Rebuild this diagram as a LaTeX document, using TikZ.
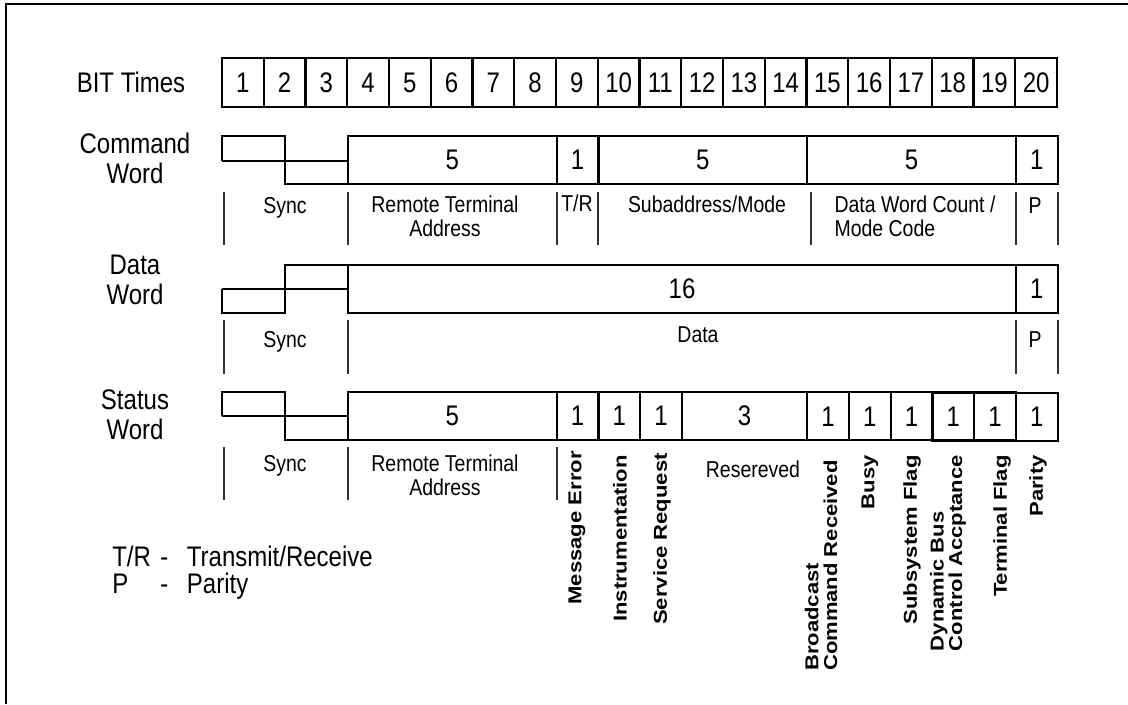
\documentclass[tikz,border=0pt]{standalone}
\usepackage{fontspec}
\setmainfont{Liberation Sans}
\usetikzlibrary{positioning}

\newcommand{\bitw}{31.3125pt}
\newcommand{\wordh}{30.5pt}

\begin{document}
\begin{tikzpicture}[x=0.75pt, y=-0.6356pt, yscale=1.18, transform shape,
    bitbox/.style={draw, line width=1.6pt, anchor=north west, inner sep=0pt, outer sep=0pt, minimum width=\bitw, minimum height=31.1pt, font=\fontsize{18}{20}\selectfont},
    field/.style={bitbox, minimum height=\wordh},
    rowname/.style={align=center, inner sep=0pt, font=\fontsize{18}{19}\selectfont},
    desc/.style={anchor=north, inner sep=0pt, align=center, font=\fontsize{14.6}{15}\selectfont},
    flag/.style={rotate=90, anchor=east, align=left, inner sep=0pt, font=\bfseries\fontsize{14}{14}\selectfont},
    tick/.style={line width=0.8pt, black!80},
    wave/.style={line width=1.6pt},
    legend/.style={anchor=base west, inner sep=0pt, font=\fontsize{18}{20}\selectfont}
]
\useasboundingbox (0,0) rectangle (1128,704);
\draw[line width=2pt] (1128,4) -- (6,4) -- (6,704);

% Bit times row
\node[rowname] (n-bits) at (131,82) {BIT Times};
\foreach \i in {1,...,20}
    \node[bitbox] (bit\i) at ({222+(\i-1)*41.75},58) {\i};

% Command word
\node[rowname] (n-cmd) at (135,158) {Command\\Word};
\draw[wave] (222,161) -- (222,136) -- (285,136) -- (285,184) -- (348,184);
\draw[wave] (222,161) -- (348,161);
\node[field, minimum width=5*\bitw] (c-rta) at (348,136) {5};
\node[field, minimum width=\bitw] (c-tr) at (c-rta.north east) {1};
\node[field, minimum width=5*\bitw] (c-sub) at (c-tr.north east) {5};
\node[field, minimum width=5*\bitw] (c-cnt) at (c-sub.north east) {5};
\node[field, minimum width=\bitw] (c-par) at (c-cnt.north east) {1};
\foreach \x in {224,348,557,598,811,1016,1058}
    \draw[tick] (\x,192) -- (\x,245);
\node[desc] (c-sync-l) at (285,197) {Sync};
\node[desc] (c-rta-l) at (445,196) {Remote Terminal\\Address};
\node[desc] (c-tr-l) at (577,195) {T/R};
\node[desc] (c-sub-l) at (707,196) {Subaddress/Mode};
\node[desc, align=left] (c-cnt-l) at (915,196) {Data Word Count /\\Mode Code};
\node[desc] (c-par-l) at (1035,197) {P};

% Data word
\node[rowname] (n-data) at (135,280) {Data\\Word};
\draw[wave] (222,289) -- (222,313) -- (285,313) -- (285,265) -- (348,265);
\draw[wave] (222,289) -- (348,289);
\node[field, minimum width=16*\bitw] (d-data) at (348,265) {16};
\node[field, minimum width=\bitw] (d-par) at (d-data.north east) {1};
\foreach \x in {224,348,1016,1058}
    \draw[tick] (\x,320) -- (\x,374);
\node[desc] (d-sync-l) at (285,331) {Sync};
\node[desc] (d-data-l) at (698,326) {Data};
\node[desc] (d-par-l) at (1035,331) {P};

% Status word
\node[rowname] (n-stat) at (135,415) {Status\\Word};
\draw[wave] (222,416) -- (222,392) -- (285,392) -- (285,440) -- (348,440);
\draw[wave] (222,416) -- (348,416);
\node[field, minimum width=5*\bitw] (s-rta) at (348,392) {5};
\node[field, minimum width=\bitw] (s-me) at (s-rta.north east) {1};
\node[field, minimum width=\bitw] (s-ins) at (s-me.north east) {1};
\node[field, minimum width=\bitw] (s-sr) at (s-ins.north east) {1};
\node[field, minimum width=3*\bitw] (s-res) at (s-sr.north east) {3};
\node[field, minimum width=\bitw] (s-bcr) at (s-res.north east) {1};
\node[field, minimum width=\bitw] (s-busy) at (s-bcr.north east) {1};
\node[field, minimum width=\bitw] (s-ssf) at (s-busy.north east) {1};
\node[field, minimum width=\bitw] (s-dbc) at (s-ssf.north east) {1};
\node[field, minimum width=\bitw] (s-tf) at (s-dbc.north east) {1};
\node[field, minimum width=\bitw] (s-par) at (s-tf.north east) {1};
\foreach \x in {224,348,557}
    \draw[tick] (\x,447) -- (\x,500);
\node[desc] (s-sync-l) at (285,455) {Sync};
\node[desc] (s-rta-l) at (445,455) {Remote Terminal\\Address};
\node[desc] (s-res-l) at (753,461) {Resereved};

% Status bits, read upwards
\node[flag] (s-me-l) at (577,451) {Message Error};
\node[flag] (s-ins-l) at (620,455) {Instrumentation};
\node[flag] (s-sr-l) at (662,453) {Service Request};
\node[flag] (s-bcr-l) at (821,460) {Broadcast\\Command Received};
\node[flag] (s-busy-l) at (870,455) {Busy};
\node[flag] (s-ssf-l) at (912,455) {Subsystem Flag};
\node[flag] (s-dbc-l) at (948,455) {Dynamic Bus\\Control Accptance};
\node[flag] (s-tf-l) at (1002,455) {Terminal Flag};
\node[flag] (s-par-l) at (1038,455) {Parity};

% Legend
\node[legend] (leg-tr) at (112,566) {\makebox[36pt][l]{T/R}\makebox[20pt][l]{-}Transmit/Receive};
\node[legend] (leg-p) at (112,593) {\makebox[36pt][l]{P}\makebox[20pt][l]{-}Parity};
\end{tikzpicture}
\end{document}
